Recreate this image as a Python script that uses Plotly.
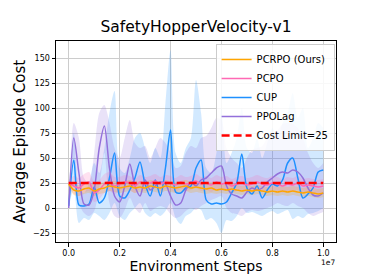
import plotly.graph_objects as go

# x positions in units of 1e6 environment steps
steps_m = [0.0, 0.2, 0.4, 0.6, 0.8, 1.0, 1.2, 1.4, 1.6, 1.8,
           2.0, 2.2, 2.4, 2.6, 2.8, 3.0, 3.2, 3.4, 3.6, 3.8,
           4.0, 4.2, 4.4, 4.6, 4.8, 5.0, 5.2, 5.4, 5.6, 5.8,
           6.0, 6.2, 6.4, 6.6, 6.8, 7.0, 7.2, 7.4, 7.6, 7.8,
           8.0, 8.2, 8.4, 8.6, 8.8, 9.0, 9.2, 9.4, 9.6, 9.8, 10.0]

pcrpo_mean = [24, 18, 17, 19, 20, 17, 19, 20, 22, 21,
              20, 21, 22, 20, 21, 20, 22, 21, 20, 22,
              21, 20, 21, 22, 20, 21, 20, 19, 20, 18,
              19, 18, 19, 18, 17, 18, 17, 18, 17, 16,
              17, 16, 17, 16, 17, 16, 15, 16, 15, 14, 15]
pcrpo_low = [22, 13, 12, 14, 15, 12, 14, 15, 17, 16,
             15, 16, 17, 15, 16, 15, 17, 16, 15, 17,
             16, 15, 16, 17, 15, 16, 15, 14, 15, 14,
             15, 14, 15, 14, 13, 14, 13, 14, 13, 12,
             13, 12, 13, 12, 13, 12, 11, 12, 11, 10, 11]
pcrpo_high = [26, 24, 23, 25, 26, 23, 25, 26, 28, 27,
              26, 27, 28, 26, 27, 26, 28, 27, 26, 28,
              27, 26, 27, 28, 26, 27, 26, 25, 26, 23,
              24, 23, 24, 23, 22, 23, 22, 23, 22, 21,
              22, 21, 22, 21, 22, 21, 20, 21, 20, 19, 20]

pcpo_mean = [25, 22, 20, 24, 26, 15, 18, 24, 26, 22,
             24, 26, 25, 22, 26, 24, 25, 27, 24, 26,
             25, 23, 26, 24, 25, 27, 24, 25, 23, 26,
             24, 25, 22, 24, 25, 23, 24, 26, 24, 23,
             25, 24, 22, 24, 23, 25, 22, 23, 22, 21, 22]
pcpo_low = [22, 14, 12, 15, 17, 6, 9, 15, 17, 14,
            17, 19, 18, 15, 19, 17, 18, 20, 17, 19,
            18, 16, 19, 17, 18, 20, 17, 18, 16, 19,
            17, 18, 15, 17, 18, 16, 17, 19, 17, 16,
            18, 17, 15, 17, 16, 18, 15, 16, 15, 14, 15]
pcpo_high = [28, 32, 30, 34, 36, 26, 28, 34, 36, 31,
             31, 33, 32, 29, 33, 31, 32, 34, 31, 33,
             32, 30, 33, 31, 32, 34, 31, 32, 30, 33,
             31, 32, 29, 31, 32, 30, 31, 33, 31, 30,
             32, 31, 29, 31, 30, 32, 29, 30, 29, 28, 29]

cup_mean = [2, 48, 3, 2, 4, 21, 5, 10, 30, 55,
            12, 10, 18, 30, 46, 24, 12, 28, 12, 40,
            78, 16, 15, 20, 22, 40, 48, 8, 4, 5,
            4, 6, 15, 25, 54, 20, 14, 22, 10, 18,
            24, 22, 28, 45, 50, 30, 10, 14, 20, 36, 38]
cup_low = [0, 20, -15, -10, -12, -5, -8, -12, -5, 5,
           -8, -12, -5, 0, 5, -5, -9, -5, -8, -3,
           5, -10, -16, -8, -5, 0, -2, -12, -10, -15,
           -25, -12, -13, -8, 0, -5, -4, -6, -8, -5,
           -3, -6, -4, -2, -11, -8, -10, -6, -5, -3, 0]
cup_high = [5, 75, 20, 15, 25, 45, 35, 60, 95, 117,
            40, 35, 50, 70, 75, 60, 45, 60, 50, 105,
            158, 55, 45, 60, 70, 128, 95, 40, 35, 55,
            100, 45, 55, 70, 100, 60, 55, 70, 50, 65,
            80, 70, 85, 95, 115, 90, 100, 60, 70, 85, 80]

ppolag_mean = [0, 70, 35, 4, 3, 18, 60, 82, 40, 12,
               6, 22, 44, 22, 12, 28, 18, 22, 26, 24,
               12, 3, 5, 18, 26, 22, 28, 30, 35, 40,
               42, 22, 14, 12, 10, 16, 20, 18, 20, 26,
               30, 34, 36, 35, 38, 36, 30, 20, 13, 12, 15]
ppolag_low = [0, 50, 5, -5, -8, -3, 20, 55, 5, -8,
              -10, -2, 10, 0, -5, 5, -3, 0, 2, 0,
              -6, -10, -8, -3, 0, -2, 2, 5, 8, 10,
              12, 0, -5, -6, -8, -4, -2, -3, -2, 0,
              2, 5, 3, 2, 5, 2, 0, -5, -8, -6, -4]
ppolag_high = [0, 85, 70, 30, 25, 55, 95, 103, 85, 60,
               50, 70, 88, 65, 60, 62, 50, 60, 70, 65,
               55, 40, 42, 55, 62, 60, 70, 72, 80, 90,
               88, 60, 50, 45, 40, 50, 58, 60, 62, 70,
               75, 78, 84, 85, 84, 80, 70, 55, 45, 40, 45]

cost_limit = 25
limit_span_m = [0.0, 10.0]

x_tickvals_m = [0, 2, 4, 6, 8, 10]
x_ticktext = ["0.0", "0.2", "0.4", "0.6", "0.8", "1.0"]
y_tickvals = [-25, 0, 25, 50, 75, 100, 125, 150]

x = [v * 1e6 for v in steps_m]

series = [
    ("PCRPO (Ours)", pcrpo_mean, pcrpo_low, pcrpo_high, "#FFA500", "rgba(255,165,0,0.22)", 1),
    ("PCPO", pcpo_mean, pcpo_low, pcpo_high, "#FF69B4", "rgba(255,105,180,0.2)", 2),
    ("CUP", cup_mean, cup_low, cup_high, "#1E90FF", "rgba(30,144,255,0.2)", 3),
    ("PPOLag", ppolag_mean, ppolag_low, ppolag_high, "#9370DB", "rgba(147,112,219,0.2)", 4),
]

fig = go.Figure()

# bands
for name, m, lo, hi, col, fcol, rank in [series[2], series[3], series[1], series[0]]:
    fig.add_trace(go.Scatter(x=x, y=lo, mode="lines", line=dict(width=0, shape="spline", smoothing=0.8),
                             showlegend=False, hoverinfo="skip"))
    fig.add_trace(go.Scatter(x=x, y=hi, mode="lines", line=dict(width=0, shape="spline", smoothing=0.8),
                             fill="tonexty", fillcolor=fcol,
                             showlegend=False, hoverinfo="skip"))

# mean lines
for name, m, lo, hi, col, fcol, rank in [series[2], series[3], series[1], series[0]]:
    fig.add_trace(go.Scatter(x=x, y=m, mode="lines", name=name,
                             line=dict(color=col, width=1.5, shape="spline", smoothing=0.8),
                             legendrank=rank))

fig.add_trace(go.Scatter(x=[v * 1e6 for v in limit_span_m], y=[cost_limit, cost_limit],
                         mode="lines", name="Cost Limit=25",
                         line=dict(color="red", width=2.5, dash="8px,4px"), legendrank=5))

axis_common = dict(showline=True, linecolor="black", linewidth=1, mirror=True,
                   ticks="outside", ticklen=3.5, tickcolor="black", tickwidth=0.8,
                   showgrid=True, gridcolor="#cccccc", gridwidth=1, zeroline=False,
                   tickfont=dict(size=8, color="black"))

fig.update_layout(
    width=365, height=274,
    margin=dict(l=45, r=37, t=33, b=31),
    paper_bgcolor="white", plot_bgcolor="white",
    font=dict(family="DejaVu Sans", color="black"),
    title=dict(text="SafetyHopperVelocity-v1", x=0.5, xref="paper", y=1 - 19 / 274,
               yref="container", xanchor="center", yanchor="middle",
               font=dict(size=15.5)),
    xaxis=dict(range=[-0.5e6, 10.5e6], tickvals=[v * 1e6 for v in x_tickvals_m],
               ticktext=x_ticktext,
               title=dict(text="Environment Steps", font=dict(size=14), standoff=2),
               **axis_common),
    yaxis=dict(range=[-34, 167], tickvals=y_tickvals,
               title=dict(text="Average Episode Cost", font=dict(size=15), standoff=3),
               **axis_common),
    legend=dict(x=0.995, y=0.985, xanchor="right", yanchor="top",
                bgcolor="rgba(255,255,255,0.85)", bordercolor="#cccccc", borderwidth=1,
                font=dict(size=10), traceorder="normal", tracegroupgap=0),
    showlegend=True,
)

fig.add_annotation(text="1e7", x=1.0, y=-21 / 210, xref="paper", yref="paper",
                   xanchor="right", yanchor="middle", showarrow=False, xshift=1,
                   font=dict(size=7.5, color="black"))

fig.write_html("out.html")
